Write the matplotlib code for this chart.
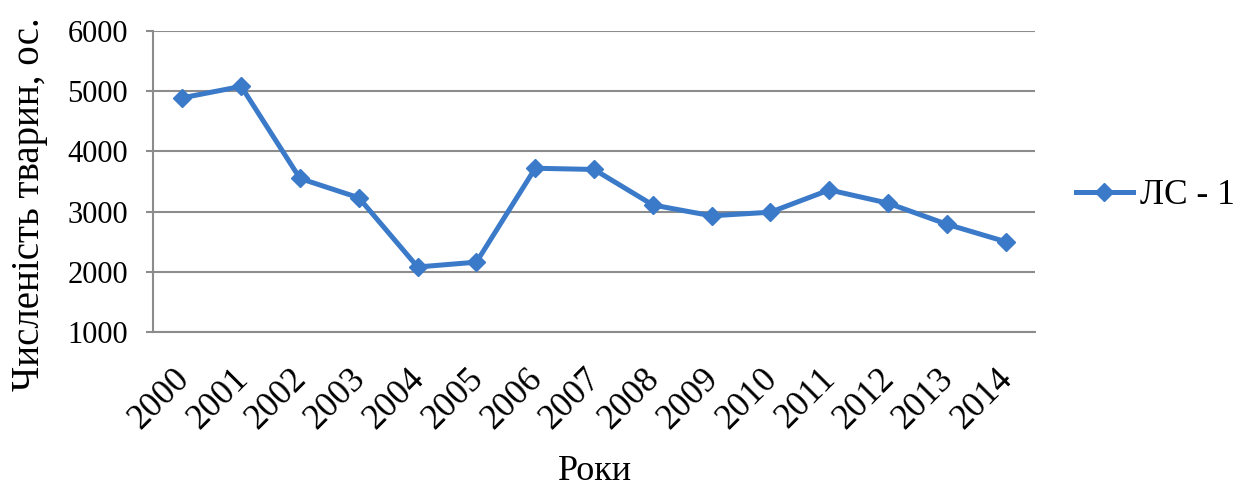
import matplotlib
matplotlib.use("Agg")
import matplotlib.pyplot as plt
import matplotlib.transforms as mtransforms
from matplotlib.lines import Line2D

plt.rcParams['font.family'] = ['Liberation Serif', 'DejaVu Serif']

years = ["2000", "2001", "2002", "2003", "2004", "2005", "2006", "2007",
         "2008", "2009", "2010", "2011", "2012", "2013", "2014"]
animals = [4890, 5080, 3550, 3230, 2080, 2160, 3720, 3700,
           3110, 2930, 2990, 3360, 3140, 2790, 2500]
y_ticks = [1000, 2000, 3000, 4000, 5000, 6000]

line_color = "#3B7AC8"
grid_color = "#8c8c8c"

fig = plt.figure(figsize=(12.46, 4.93), dpi=100)
ax = fig.add_axes([0.1228, 0.3266, 0.7079, 0.6105])

x = list(range(len(years)))
ax.plot(x, animals, color=line_color, lw=3.6, marker="D", ms=9.5,
        mec=line_color, mew=1, solid_joinstyle="round")

ax.set_xlim(-0.5, len(years) - 0.5)
ax.set_ylim(y_ticks[0], y_ticks[-1])
ax.set_yticks(y_ticks)
ax.set_xticks(x)
ax.set_xticklabels(years, rotation=45, ha="right", va="top",
                   rotation_mode="anchor")

ax.grid(axis="y", color=grid_color, lw=1.5)
ax.set_axisbelow(True)
for side in ("top", "right"):
    ax.spines[side].set_visible(False)
for side in ("left", "bottom"):
    ax.spines[side].set_color(grid_color)
    ax.spines[side].set_linewidth(1.5)

ax.tick_params(axis="y", length=5, width=1.5, color=grid_color,
               labelsize=22, pad=13)
ax.tick_params(axis="x", length=0, labelsize=25.5, pad=22)

# shift rotated year labels a bit to the left (after tick_params,
# which resets the label transforms)
shift = mtransforms.ScaledTranslation(-7 / 72, 0, fig.dpi_scale_trans)
for lbl in ax.get_xticklabels():
    lbl.set_transform(lbl.get_transform() + shift)

fig.text(30 / 1246, 1 - 204 / 493, "Численість тварин, ос.", rotation=90,
         ha="center", va="center", fontsize=28)
fig.text(595 / 1246, 1 - 472 / 493, "Роки", ha="center", va="center",
         fontsize=26)

handle = Line2D([], [], color=line_color, lw=3.6, marker="D", ms=9.5,
                mec=line_color)
fig.legend([handle], ["ЛС - 1"], loc="center left",
           bbox_to_anchor=(1076 / 1246, 1 - 196 / 493), frameon=False,
           fontsize=25.5, handlelength=1.6, handletextpad=0.2,
           borderaxespad=0, borderpad=0)

fig.savefig("out.png", dpi=100, facecolor="white")
